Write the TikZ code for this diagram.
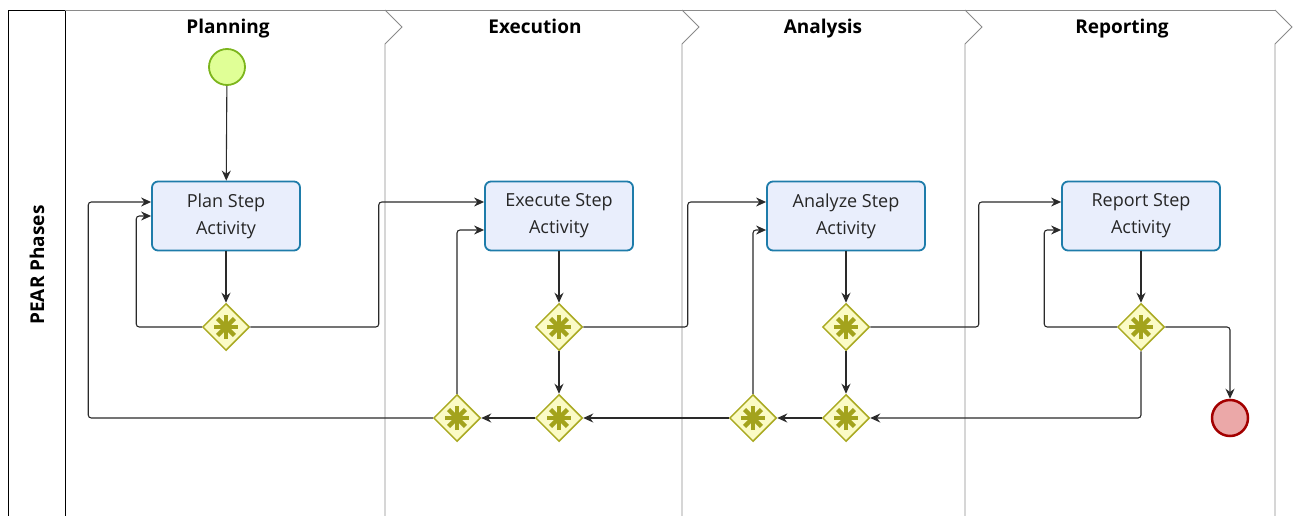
\documentclass[tikz,border=0pt]{standalone}
\usepackage{fontspec}
\setmainfont{Open Sans}
\usepackage{xcolor}
\usetikzlibrary{shapes.geometric, arrows.meta}
\definecolor{actfill}{HTML}{E9EEFC}
\definecolor{actline}{HTML}{1E7CAA}
\definecolor{gwfill}{HTML}{FBFBC6}
\definecolor{gwline}{HTML}{AAAA22}
\definecolor{gwmark}{HTML}{A3A31C}
\definecolor{startfill}{HTML}{E0FF96}
\definecolor{startline}{HTML}{7CB51C}
\definecolor{endfill}{HTML}{EBA8A8}
\definecolor{endline}{HTML}{A30000}
\definecolor{flowline}{HTML}{2A2A2A}
\definecolor{laneline}{HTML}{8A8A8A}
\tikzstyle{activity} = [rectangle, rounded corners=6pt, minimum width=148pt, minimum height=69pt, align=center, draw=actline, fill=actfill, line width=1.8pt, text=black!85, font=\fontsize{18}{27}\selectfont]
\tikzstyle{gateway} = [diamond, minimum width=47pt, minimum height=47pt, inner sep=0pt, draw=gwline, fill=gwfill, line width=1.5pt,
  path picture={\foreach \a in {0,45,90,135} \draw[gwmark, line width=4.5pt] (path picture bounding box.center) ++(\a:-12pt) -- ++(\a:24pt);}]
\tikzstyle{startev} = [circle, minimum size=36pt, inner sep=0pt, draw=startline, fill=startfill, line width=1.8pt]
\tikzstyle{endev} = [circle, minimum size=36pt, inner sep=0pt, draw=endline, fill=endfill, line width=2.5pt]
\tikzstyle{phase} = [anchor=base, font=\bfseries\fontsize{19}{22}\selectfont]
\tikzstyle{lane} = [draw=laneline, line width=0.9pt]
\tikzstyle{arrow} = [line width=1.1pt, draw=flowline, rounded corners=3pt, -{Stealth[length=10pt,width=9pt]}]

\begin{document}
\begin{tikzpicture}[x=1pt, y=-1pt]
  \useasboundingbox (0,0) rectangle (1293,516);

  % pool and phase lanes
  \draw[line width=0.9pt] (8,516) -- (8,10) -- (65,10) -- (65,516);
  \draw[lane] (65,10) -- (1275,10);
  \foreach \x in {385,682,965,1275}
    \draw[lane] (\x,10) -- (\x+17,27) -- (\x,44) -- (\x,516);
  \node (pool) [phase, anchor=center, rotate=90] at (37,265) {PEAR Phases};
  \node (tplan) [phase] at (228,34) {Planning};
  \node (texec) [phase] at (535,34) {Execution};
  \node (tanalyze) [phase] at (823,34) {Analysis};
  \node (treport) [phase] at (1122,34) {Reporting};

  % events and activities
  \node (start) [startev] at (227,67) {};
  \node (plan) [activity] at (226,216) {Plan Step\\Activity};
  \node (exec) [activity] at (559,216) {Execute Step\\Activity};
  \node (analyze) [activity, minimum width=158pt] at (846,216) {Analyze Step\\Activity};
  \node (report) [activity, minimum width=158pt] at (1141,216) {Report Step\\Activity};
  \node (end) [endev] at (1230,418) {};

  % gateways
  \node (gplan) [gateway] at (226,327) {};
  \node (gexec) [gateway] at (559,327) {};
  \node (ganalyze) [gateway] at (846,327) {};
  \node (greport) [gateway] at (1141,327) {};
  \node (jback) [gateway] at (457,418) {};
  \node (jexec) [gateway] at (559,418) {};
  \node (jaback) [gateway] at (753,418) {};
  \node (janalyze) [gateway] at (846,418) {};

  % sequence flows
  \draw [arrow] (start) -- (plan);
  \draw [arrow] (plan) -- (gplan);
  \draw [arrow] (gplan.west) -- ++(-65.5,0) |- (plan.west);
  \draw [arrow] (gplan.east) -- ++(128.5,0) |- ([yshift=14pt]exec.west);
  \draw [arrow] (jback.west) -- ++(-344.5,0) |- ([yshift=14pt]plan.west);
  \draw [arrow] (jback.north) |- ([yshift=-14pt]exec.west);
  \draw [arrow] (exec) -- (gexec);
  \draw [arrow] (gexec) -- (jexec);
  \draw [arrow] (jexec) -- (jback);
  \draw [arrow] (gexec.east) -- ++(104.5,0) |- ([yshift=14pt]analyze.west);
  \draw [arrow] (jaback) -- (jexec);
  \draw [arrow] (jaback.north) |- ([yshift=-14pt]analyze.west);
  \draw [arrow] (analyze) -- (ganalyze);
  \draw [arrow] (ganalyze) -- (janalyze);
  \draw [arrow] (janalyze) -- (jaback);
  \draw [arrow] (ganalyze.east) -- ++(108.5,0) |- ([yshift=14pt]report.west);
  \draw [arrow] (report) -- (greport);
  \draw [arrow] (greport.west) -- ++(-72.5,0) |- ([yshift=-14pt]report.west);
  \draw [arrow] (greport.south) |- (janalyze.east);
  \draw [arrow] (greport.east) -| (end.north);

\end{tikzpicture}
\end{document}
